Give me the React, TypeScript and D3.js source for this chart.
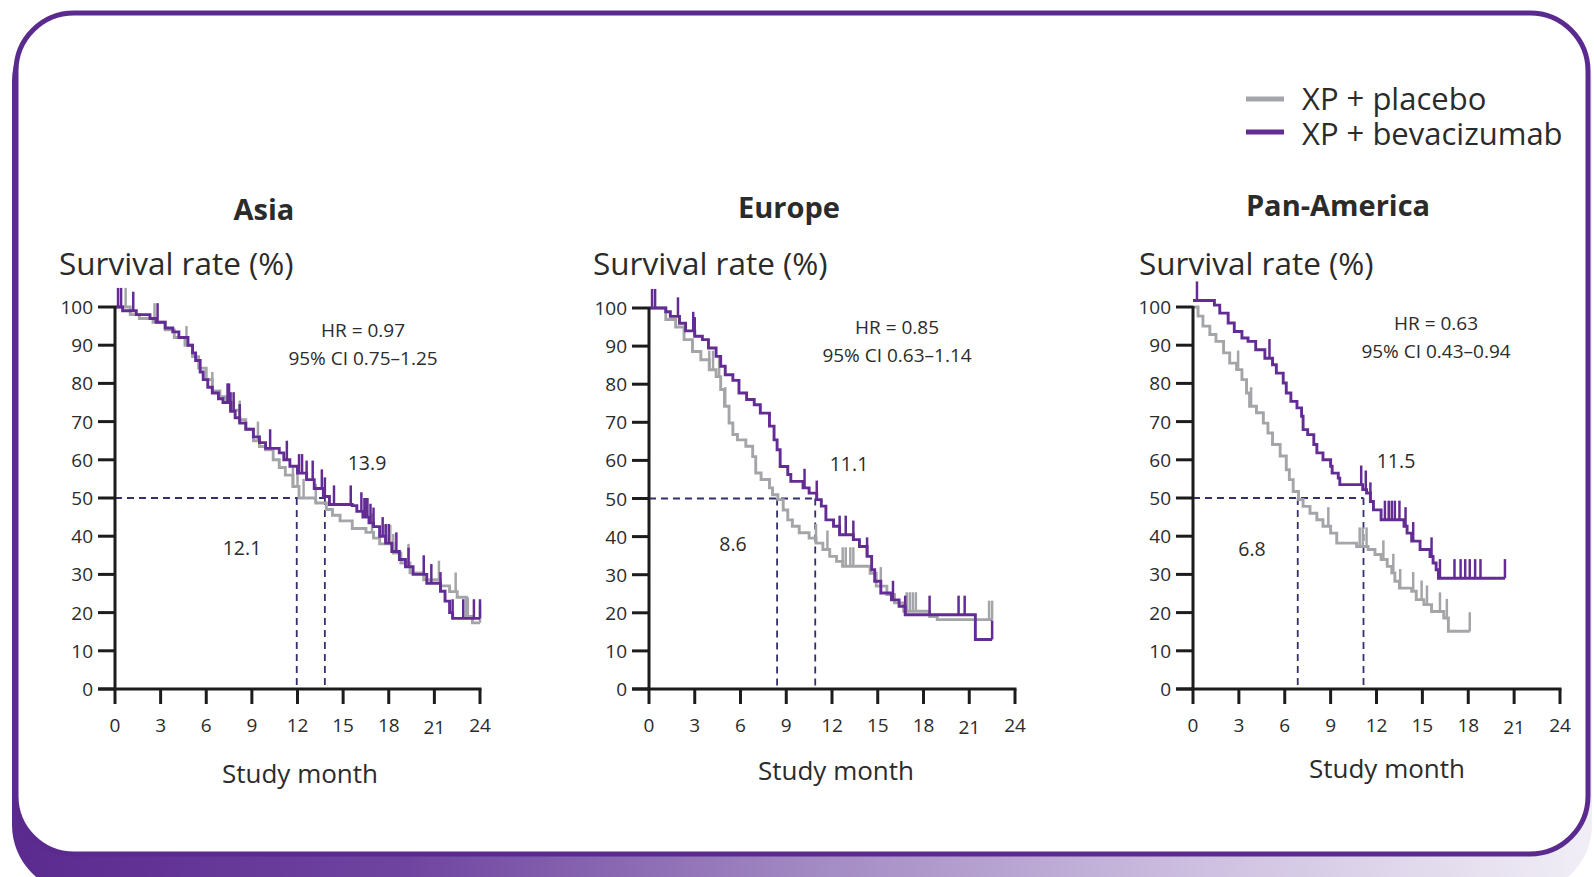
import React from 'react';
import * as d3 from 'd3';

type Pt = [number, number];

// ---------- data ----------
const monthTicks = [0, 3, 6, 9, 12, 15, 18, 21, 24];
const rateTicks = [0, 10, 20, 30, 40, 50, 60, 70, 80, 90, 100];
const seriesNames = ['XP + placebo', 'XP + bevacizumab'];
const regions = ['Asia', 'Europe', 'Pan-America'];
const hrLabels = ['HR = 0.97', 'HR = 0.85', 'HR = 0.63'];
const ciLabels = ['95% CI 0.75–1.25', '95% CI 0.63–1.14', '95% CI 0.43–0.94'];
const medianPlacebo = [11.95, 8.4, 6.85];
const medianBev = [13.8, 10.9, 11.15];
const medianPlaceboLabels = ['12.1', '8.6', '6.8'];
const medianBevLabels = ['13.9', '11.1', '11.5'];

const asiaPlacebo: Pt[] = [
  [0, 100], [1.0, 98], [1.6, 97], [2.5, 96], [3.3, 94], [3.9, 92], [4.6, 90], [5.1, 87], [5.5, 84],
  [6.0, 81], [6.4, 78], [6.9, 76.5], [7.3, 75], [7.8, 73], [8.2, 70.5], [8.6, 68], [9.1, 65],
  [9.5, 63.5], [9.9, 62.6], [10.4, 60], [10.8, 58], [11.2, 56], [11.7, 53], [12.1, 50],
  [13.2, 48.7], [13.9, 47], [14.3, 45.5], [14.8, 44], [15.6, 42], [16.5, 41], [17.0, 39.5],
  [17.4, 38], [18.3, 35.6], [18.8, 33], [19.4, 30.4], [20.3, 28.6], [21.4, 27], [22.0, 25.5],
  [22.5, 24], [23.1, 19], [23.5, 17.3], [24, 17.3],
];
const asiaPlaceboCensor = [0.7, 2.6, 4.7, 6.4, 8.2, 9.4, 11.7, 12.0, 12.4, 13.2, 16.9, 17.8, 18.1, 18.3, 19.3, 21.3, 22.4, 23.2, 24.0];
const asiaBev: Pt[] = [
  [0, 100], [0.5, 99], [1.4, 98], [2.3, 97], [2.7, 96], [3.3, 94.5], [3.8, 93.5], [4.2, 92],
  [4.8, 90], [5.1, 88], [5.3, 86], [5.6, 83], [5.8, 81], [6.1, 79], [6.4, 77.5], [6.8, 76],
  [7.1, 75], [7.6, 72.7], [7.9, 71], [8.2, 69.6], [8.6, 68], [9.1, 66], [9.5, 64.5], [9.9, 63],
  [10.8, 61.8], [11.1, 60], [11.5, 58.3], [12.0, 56.5], [12.6, 54.8], [13.1, 52.5], [13.7, 50.4],
  [14.1, 48.3], [15.6, 48], [15.9, 46.5], [16.3, 45], [16.7, 43.5], [17.0, 42.5], [17.4, 40],
  [17.8, 38.2], [18.2, 36], [18.7, 33.9], [19.1, 32], [19.6, 30], [20.5, 27.7], [21.4, 25.6],
  [21.7, 23], [22.0, 20], [22.2, 18.5], [24, 18.5],
];
const asiaBevCensor = [0.2, 0.4, 1.2, 2.8, 7.4, 7.5, 7.6, 7.8, 8.2, 10.2, 11.3, 12.1, 12.3, 12.6, 13.0, 13.6, 13.8, 14.4, 15.5, 16.2, 16.4, 16.5, 16.6, 16.8, 17.0, 17.6, 17.8, 18.0, 18.5, 19.3, 20.3, 20.8, 21.4, 22.2, 22.9, 23.6, 24.0];

const europePlacebo: Pt[] = [
  [0, 100], [1.1, 97], [1.75, 95], [2.3, 91.7], [2.85, 88.6], [3.4, 86.4], [3.95, 83.8], [4.4, 82],
  [4.7, 78.6], [4.95, 74.2], [5.25, 69.8], [5.5, 66.8], [5.8, 65.4], [6.35, 63.7], [6.8, 61],
  [7.0, 56.7], [7.35, 55], [7.9, 52.8], [8.1, 51], [8.45, 49.7], [8.8, 47], [9.1, 44.4],
  [9.4, 42.7], [9.85, 41], [10.5, 39.6], [10.95, 38.3], [11.4, 36.6], [11.85, 34.8], [12.3, 33.5],
  [12.7, 32.2], [14.5, 30.4], [14.9, 27], [15.6, 24.8], [16.1, 22.6], [16.7, 20.4], [18.4, 19],
  [18.9, 18.2], [22.5, 18.2],
];
const europePlaceboCensor = [3.95, 4.2, 4.6, 5.0, 10.95, 11.7, 12.7, 12.9, 13.2, 13.4, 15.2, 16.9, 17.1, 17.3, 17.5, 22.3, 22.5];
const europeBev: Pt[] = [
  [0, 100], [1.1, 99], [1.4, 97.8], [2.0, 96], [2.4, 94], [3.0, 92.6], [3.5, 91.7], [3.9, 89.5],
  [4.4, 87.3], [4.7, 84.7], [5.0, 82.5], [5.5, 81], [5.9, 77.7], [6.4, 76], [6.9, 74.6], [7.3, 72.4],
  [7.9, 69], [8.2, 65.4], [8.4, 62.8], [8.6, 58.4], [9.1, 56.3], [9.3, 54.5], [10.1, 52.8],
  [10.5, 51.4], [11.0, 49.7], [11.3, 48], [11.6, 44.4], [12.1, 42.7], [12.5, 40.5], [13.4, 39.2],
  [13.8, 37.4], [14.3, 34.8], [14.6, 31.3], [14.8, 28.3], [15.2, 25.2], [15.9, 23.4], [16.4, 21.7],
  [16.8, 19.5], [21.4, 13], [22.5, 13],
];
const europeBevCensor = [0.2, 0.4, 1.9, 2.9, 3.0, 10.2, 11.0, 12.5, 12.9, 13.4, 14.3, 16.0, 16.8, 18.4, 20.3, 20.7, 22.5];

const panAmPlacebo: Pt[] = [
  [0, 100], [0.33, 97.6], [0.65, 95], [1.1, 92.8], [1.5, 91], [2.0, 88], [2.4, 85.3], [2.85, 83.6],
  [3.2, 81], [3.5, 77.5], [3.7, 74], [4.15, 72.3], [4.6, 69.6], [4.9, 67], [5.2, 64], [5.7, 61],
  [6.1, 57.4], [6.3, 54.8], [6.55, 51.7], [6.9, 49.6], [7.2, 47.8], [7.65, 46], [8.1, 44.3],
  [8.5, 42.6], [9.0, 40.8], [9.4, 38.2], [10.7, 37.3], [11.45, 36.5], [11.9, 35.2], [12.3, 33.9],
  [12.7, 32.1], [13.0, 30.4], [13.2, 28.2], [13.5, 26.4], [14.3, 25.6], [14.6, 23.4], [15.1, 22.1],
  [15.6, 20.3], [16.4, 18.6], [16.7, 15.1], [18.1, 15.1],
];
const panAmPlaceboCensor = [2.95, 3.8, 8.85, 10.9, 11.1, 11.35, 12.45, 13.1, 13.55, 14.4, 14.95, 15.3, 16.15, 16.6, 18.1];
const panAmBev: Pt[] = [
  [0, 101.7], [1.4, 100.5], [1.75, 98.4], [2.3, 95.8], [2.7, 93.6], [3.2, 91.9], [3.6, 91], [4.1, 88.8],
  [4.7, 86.6], [5.2, 84.9], [5.45, 82.7], [5.9, 80.1], [6.1, 77.5], [6.4, 75.3], [6.8, 73.6],
  [7.1, 71.4], [7.2, 67.9], [7.5, 66.6], [7.9, 64], [8.1, 61.8], [8.5, 60], [9.0, 58.3], [9.1, 56.5],
  [9.5, 55.2], [9.6, 53.5], [11.1, 52.2], [11.35, 51.3], [11.6, 49.1], [11.8, 46.9], [12.3, 44.3],
  [13.8, 42.6], [14.0, 40.8], [14.3, 38.7], [14.85, 36.5], [15.5, 34.7], [15.7, 33], [15.9, 31.2],
  [16.05, 29], [20.4, 29],
];
const panAmBevCensor = [0.26, 5.0, 11.0, 11.3, 11.6, 12.55, 12.8, 13.0, 13.2, 13.5, 13.9, 14.4, 15.6, 16.15, 17.1, 17.5, 17.8, 18.1, 18.45, 18.8, 20.4];

const placeboCurves = [asiaPlacebo, europePlacebo, panAmPlacebo];
const placeboCensors = [asiaPlaceboCensor, europePlaceboCensor, panAmPlaceboCensor];
const bevCurves = [asiaBev, europeBev, panAmBev];
const bevCensors = [asiaBevCensor, europeBevCensor, panAmBevCensor];

// ---------- layout / style ----------
const W = 1594;
const H = 877;
const PURPLE = '#632c94';
const FRAME = '#5b2a8f';
const GRAY = '#a4a5a8';
const DASH = '#34306e';
const TEXT = '#2b2b2b';
const FONT = '"Open Sans", "Noto Sans", sans-serif';

const layouts = [
  { x0: 115, x1: 480, y0: 689, y1: 307, titleX: 264, titleY: 208, ylabX: 59, hr: [363, 330], mb: [367, 462], mp: [242, 547], xlabX: 300, xlabY: 773 },
  { x0: 649, x1: 1015, y0: 689, y1: 308, titleX: 789, titleY: 206, ylabX: 593, hr: [897, 327], mb: [849, 463], mp: [733, 543], xlabX: 836, xlabY: 770 },
  { x0: 1193, x1: 1560, y0: 689, y1: 307, titleX: 1338, titleY: 204, ylabX: 1139, hr: [1436, 323], mb: [1396, 460], mp: [1252, 548], xlabX: 1387, xlabY: 768 },
];

function valueAt(curve: Pt[], t: number): number {
  let v = curve[0][1];
  for (const p of curve) {
    if (p[0] <= t + 1e-9) v = p[1];
    else break;
  }
  return v;
}

function Panel({ i }: { i: number }) {
  const L = layouts[i];
  const x = d3.scaleLinear().domain([0, 24]).range([L.x0, L.x1]);
  const y = d3.scaleLinear().domain([0, 100]).range([L.y0, L.y1]);
  const line = d3
    .line<Pt>()
    .x((d) => x(d[0]))
    .y((d) => y(d[1]))
    .curve(d3.curveStepAfter);
  const tickLen = y(0) - y(5);

  const drawCurve = (curve: Pt[], censor: number[], color: string) => (
    <g>
      <path d={line(curve) || ''} fill="none" stroke={color} strokeWidth={2.9} strokeLinejoin="miter" />
      {censor.map((t, k) => {
        const v = valueAt(curve, t);
        return (
          <line key={k} x1={x(t)} x2={x(t)} y1={y(v)} y2={y(v) - tickLen} stroke={color} strokeWidth={2.5} />
        );
      })}
    </g>
  );

  return (
    <g>
      <text x={L.titleX} y={L.titleY} textAnchor="middle" dominantBaseline="central" fontFamily={FONT} fontWeight={700} fontSize={29} fill={TEXT}>
        {regions[i]}
      </text>
      <text x={L.ylabX} y={262} dominantBaseline="central" fontFamily={FONT} fontSize={31.5} fill={TEXT}>
        Survival rate (%)
      </text>

      {/* median guides */}
      <g stroke={DASH} strokeWidth={1.8} fill="none" strokeDasharray="7 5">
        <line x1={x(0)} x2={x(medianBev[i])} y1={y(50)} y2={y(50)} />
        <line x1={x(medianPlacebo[i])} x2={x(medianPlacebo[i])} y1={y(50)} y2={y(0)} />
        <line x1={x(medianBev[i])} x2={x(medianBev[i])} y1={y(50)} y2={y(0)} />
      </g>

      {drawCurve(placeboCurves[i], placeboCensors[i], GRAY)}
      {drawCurve(bevCurves[i], bevCensors[i], PURPLE)}

      {/* axes */}
      <g stroke="#1c1c1c" strokeWidth={3}>
        <line x1={x(0)} x2={x(0)} y1={y(0)} y2={y(100) - 1} />
        <line x1={x(0) - 17} x2={x(24) + 1.5} y1={y(0)} y2={y(0)} />
        {rateTicks.map((r) => (
          <line key={r} x1={x(0) - 17} x2={x(0)} y1={y(r)} y2={y(r)} />
        ))}
        {monthTicks.map((m) => (
          <line key={m} x1={x(m)} x2={x(m)} y1={y(0)} y2={y(0) + 15} />
        ))}
      </g>
      {rateTicks.map((r) => (
        <text key={r} x={x(0) - 22} y={y(r)} textAnchor="end" dominantBaseline="central" fontFamily={FONT} fontSize={19} fill={TEXT}>
          {r}
        </text>
      ))}
      {monthTicks.map((m) => (
        <text key={m} x={x(m)} y={725 + (m === 21 ? 2 : 0)} textAnchor="middle" dominantBaseline="central" fontFamily={FONT} fontSize={19} fill={TEXT}>
          {m}
        </text>
      ))}
      <text x={L.xlabX} y={L.xlabY} textAnchor="middle" dominantBaseline="central" fontFamily={FONT} fontSize={26} fill={TEXT}>
        Study month
      </text>

      <text x={L.hr[0]} y={L.hr[1]} textAnchor="middle" dominantBaseline="central" fontFamily={FONT} fontSize={19} fill={TEXT}>
        {hrLabels[i]}
      </text>
      <text x={L.hr[0]} y={L.hr[1] + 28} textAnchor="middle" dominantBaseline="central" fontFamily={FONT} fontSize={19} fill={TEXT}>
        {ciLabels[i]}
      </text>
      <text x={L.mb[0]} y={L.mb[1]} textAnchor="middle" dominantBaseline="central" fontFamily={FONT} fontSize={19.5} fill={TEXT}>
        {medianBevLabels[i]}
      </text>
      <text x={L.mp[0]} y={L.mp[1]} textAnchor="middle" dominantBaseline="central" fontFamily={FONT} fontSize={19.5} fill={TEXT}>
        {medianPlaceboLabels[i]}
      </text>
    </g>
  );
}

export default function App() {
  return (
    <svg
      width={W}
      height={H}
      viewBox={`0 0 ${W} ${H}`}
      style={{ position: 'absolute', left: 0, top: 0, display: 'block', background: '#fff' }}
    >
      <defs>
        <linearGradient id="band" x1="0" x2="1" y1="0" y2="0">
          <stop offset="0" stopColor="#5b2a8f" />
          <stop offset="0.25" stopColor="#6f44a0" />
          <stop offset="0.5" stopColor="#a188c2" />
          <stop offset="0.75" stopColor="#cdbfe0" />
          <stop offset="1" stopColor="#f1eef6" />
        </linearGradient>
      </defs>
      <rect x={0} y={0} width={W} height={H} fill="#fff" />
      <rect x={12} y={13} width={1580} height={880} rx={68} ry={68} fill="url(#band)" />
      <rect x={16} y={13} width={1572} height={841} rx={58} ry={58} fill="#fff" stroke={FRAME} strokeWidth={5} />

      {/* legend */}
      <line x1={1246} x2={1284} y1={99} y2={99} stroke={GRAY} strokeWidth={5} />
      <line x1={1246} x2={1284} y1={132} y2={132} stroke={PURPLE} strokeWidth={5} />
      <text x={1302} y={97.6} dominantBaseline="central" fontFamily={FONT} fontSize={31} fill={TEXT}>
        {seriesNames[0]}
      </text>
      <text x={1302} y={133} dominantBaseline="central" fontFamily={FONT} fontSize={31} fill={TEXT}>
        {seriesNames[1]}
      </text>

      {regions.map((_, i) => (
        <Panel key={i} i={i} />
      ))}
    </svg>
  );
}
